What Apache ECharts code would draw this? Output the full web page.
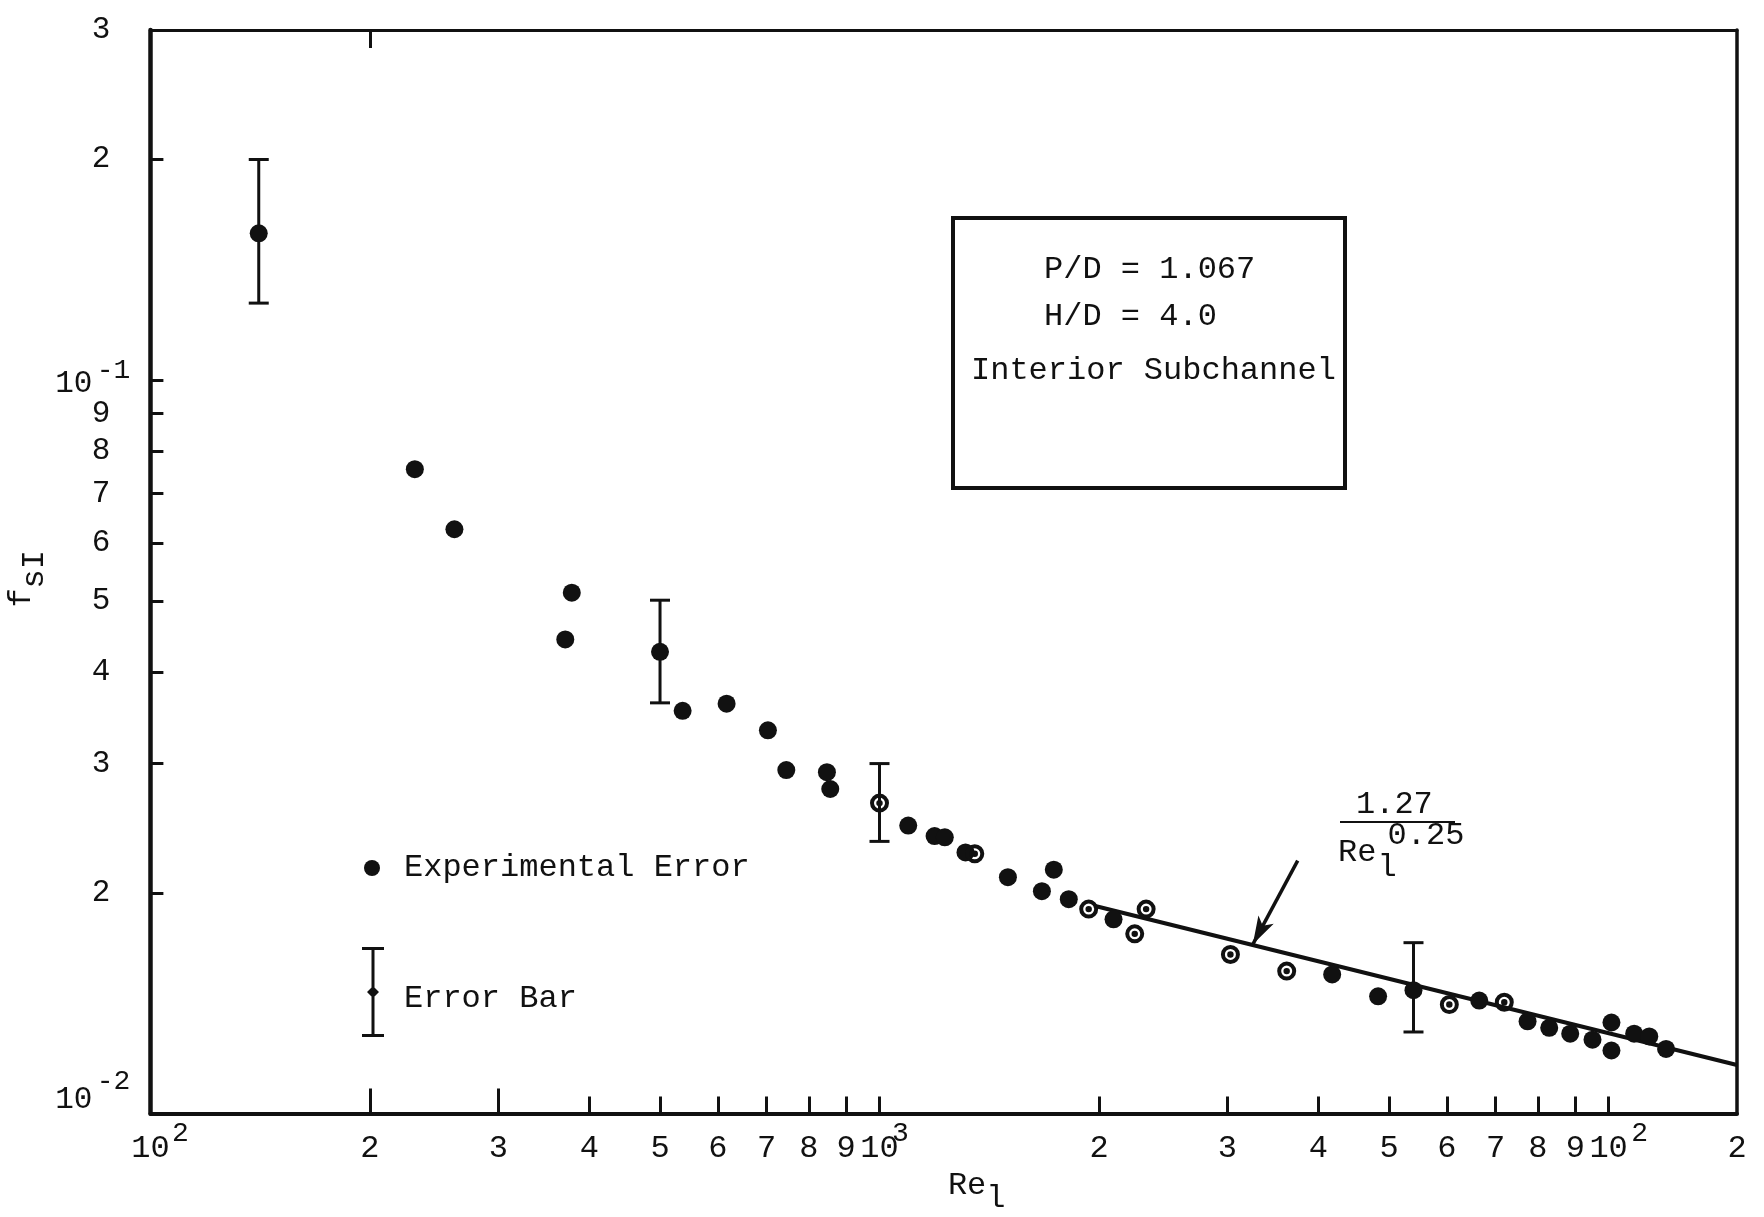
<!DOCTYPE html>
<html>
<head>
<meta charset="utf-8">
<script src="https://cdn.jsdelivr.net/npm/echarts@6/dist/echarts.min.js"></script>
<style>
  html, body { margin: 0; padding: 0; background: #fff; }
  #chart { width: 1764px; height: 1217px; }
</style>
</head>
<body>
<div id="chart"></div>
<script>
// Friction factor f_sI against Reynolds number Re_l, interior subchannel.

// Measured points drawn as solid dots
const dotRe = [140.8, 230.5, 261.2, 378.4, 370.7, 500, 537, 617, 703, 745, 847, 856,
  1095, 1190, 1229, 1312, 1500, 1734, 1670, 1818, 2094, 4177, 4829, 5400, 6646,
  7742, 8290, 8858, 9504, 10090, 10090, 10840, 11370, 11990];
const dotF = [0.1585, 0.0756, 0.0626, 0.0513, 0.0443, 0.0426, 0.0354, 0.0362, 0.0333, 0.0294, 0.0292, 0.0277,
  0.0247, 0.0239, 0.0238, 0.0227, 0.0210, 0.0215, 0.0201, 0.0196, 0.0184, 0.01548, 0.01445, 0.01473, 0.01426,
  0.01336, 0.01309, 0.01285, 0.01261, 0.01331, 0.01219, 0.01285, 0.01274, 0.01225];

// Measured points drawn as circled dots
const ringRe = [1000, 1351, 1936, 2321, 2239, 3029, 3618, 6047, 7193];
const ringF = [0.0265, 0.0226, 0.0190, 0.0190, 0.01758, 0.01648, 0.01564, 0.01408, 0.01418];

// Error bars: Re, lower f, upper f
const barRe = [140.8, 500, 1000, 5400];
const barLo = [0.1273, 0.0363, 0.0235, 0.01292];
const barHi = [0.1998, 0.0501, 0.0300, 0.0171];

// Correlation line 1.27 / Re^0.25 (end points)
const fitRe = [1970, 15000];
const fitF = [0.0192, 0.01165];

// Pointer arrow from the formula to the line (tail, tip)
const arrowRe = [3746, 3251];
const arrowF = [0.02212, 0.01701];

// Axis ticks and labels
const xTickVals = [200, 300, 400, 500, 600, 700, 800, 900, 1000,
  2000, 3000, 4000, 5000, 6000, 7000, 8000, 9000, 10000];
const xLongTickVals = [200, 300];
const xTopTickVals = [200];
const xLabelVals = [100, 200, 300, 400, 500, 600, 700, 800, 900, 1000,
  2000, 3000, 4000, 5000, 6000, 7000, 8000, 9000, 10000, 15000];
const xLabelText = ['10', '2', '3', '4', '5', '6', '7', '8', '9', '10',
  '2', '3', '4', '5', '6', '7', '8', '9', '10', '2'];
const xPowerVals = [100, 1000, 10000];
const xPowerText = ['2', '3', '2'];

const yTickVals = [0.02, 0.03, 0.04, 0.05, 0.06, 0.07, 0.08, 0.09, 0.1, 0.2];
const yLabelVals = [0.01, 0.02, 0.03, 0.04, 0.05, 0.06, 0.07, 0.08, 0.09, 0.1, 0.2, 0.3];
const yLabelText = ['10', '2', '3', '4', '5', '6', '7', '8', '9', '10', '2', '3'];
const yPowerVals = [0.01, 0.1];
const yPowerText = ['-2', '-1'];

const X_MIN = 100, X_MAX = 15000, Y_MIN = 0.01, Y_MAX = 0.3;

const FONT = '"Liberation Mono", "Courier New", monospace';
const INK = '#111';

// circled dot: outer disc, hole, centre dot
const RING = 'path://M0,-10A10,10,0,1,1,0,10A10,10,0,1,1,0,-10Z' +
  'M0,-5.8A5.8,5.8,0,1,0,0,5.8A5.8,5.8,0,1,0,0,-5.8Z' +
  'M0,-3.4A3.4,3.4,0,1,1,0,3.4A3.4,3.4,0,1,1,0,-3.4Z';
// I-beam with a centre diamond for the error-bar legend key
const IBEAM = 'path://M0,0L22,0L22,3L0,3Z M9.5,0L12.5,0L12.5,90L9.5,90Z M0,87L22,87L22,90L0,90Z M11,39L17,45L11,51L5,45Z';

// keep end labels inside the axis extent
function inside(vals, lo, hi) {
  return vals.map(v => Math.min(Math.max(v, lo * (1 + 1e-9)), hi * (1 - 1e-9)));
}
function nearest(arr, v) {
  let best = 0, d = Infinity;
  arr.forEach((a, i) => {
    const dd = Math.abs(Math.log10(a) - Math.log10(v));
    if (dd < d) { d = dd; best = i; }
  });
  return best;
}

const txt = { fontFamily: FONT, color: INK };

const chart = echarts.init(document.getElementById('chart'));

const baseX = { type: 'log', logBase: 10, min: X_MIN, max: X_MAX, splitLine: { show: false }, minorTick: { show: false } };
const baseY = { type: 'log', logBase: 10, min: Y_MIN, max: Y_MAX, splitLine: { show: false }, minorTick: { show: false } };

chart.setOption({
  animation: false,
  backgroundColor: '#fff',
  grid: { left: 150.4, right: 27, top: 30, bottom: 103.4, outerBoundsMode: 'none', containLabel: false },
  xAxis: [
    Object.assign({}, baseX, {
      position: 'bottom',
      axisLine: { show: true, lineStyle: { color: INK, width: 4 } },
      axisTick: { show: true, inside: true, length: 17, lineStyle: { color: INK, width: 3 }, customValues: xTickVals },
      axisLabel: {
        show: true, customValues: inside(xLabelVals, X_MIN, X_MAX), margin: 19,
        fontFamily: FONT, fontSize: 32, color: INK,
        formatter: v => xLabelText[nearest(xLabelVals, v)]
      },
      name: '{a|Re}{b|l}', nameLocation: 'middle', nameGap: 56, nameMoveOverlap: false,
      nameTextStyle: {
        fontFamily: FONT, fontSize: 32, color: INK, padding: [0, 0, 0, 66],
        rich: {
          a: Object.assign({ fontSize: 32, verticalAlign: 'top' }, txt),
          b: Object.assign({ fontSize: 32, verticalAlign: 'top', padding: [13, 0, 0, 0] }, txt)
        }
      }
    }),
    Object.assign({}, baseX, {
      position: 'bottom',
      axisLine: { show: false },
      axisTick: { show: true, inside: true, length: 25, lineStyle: { color: INK, width: 3 }, customValues: xLongTickVals },
      axisLabel: {
        show: true, customValues: inside(xPowerVals, X_MIN, X_MAX), margin: 6,
        fontFamily: FONT, fontSize: 28, color: INK,
        formatter: v => { const i = nearest(xPowerVals, v); return '{s' + i + '|' + xPowerText[i] + '}'; },
        rich: {
          s0: Object.assign({ fontSize: 28, padding: [0, 0, 0, 60] }, txt),
          s1: Object.assign({ fontSize: 28, padding: [0, 0, 0, 42] }, txt),
          s2: Object.assign({ fontSize: 28, padding: [0, 0, 0, 62] }, txt)
        }
      }
    }),
    Object.assign({}, baseX, {
      position: 'top',
      axisLine: { show: true, lineStyle: { color: INK, width: 3 } },
      axisTick: { show: true, inside: true, length: 18, lineStyle: { color: INK, width: 3 }, customValues: xTopTickVals },
      axisLabel: { show: false }
    })
  ],
  yAxis: [
    Object.assign({}, baseY, {
      position: 'left',
      axisLine: { show: true, lineStyle: { color: INK, width: 4.5 } },
      axisTick: { show: true, inside: true, length: 13, lineStyle: { color: INK, width: 3 }, customValues: yTickVals },
      axisLabel: {
        show: true, customValues: inside(yLabelVals, Y_MIN, Y_MAX), margin: 40,
        fontFamily: FONT, fontSize: 31, color: INK,
        formatter: v => {
          const i = nearest(yLabelVals, v);
          if (i === 0) return '{p0|' + yLabelText[i] + '}';
          if (i === 9) return '{p1|' + yLabelText[i] + '}';
          return '{d|' + yLabelText[i] + '}';
        },
        rich: {
          d: Object.assign({ fontSize: 31 }, txt),
          p0: Object.assign({ fontSize: 31, padding: [0, 18, 28, 0] }, txt),
          p1: Object.assign({ fontSize: 31, padding: [8, 18, 0, 0] }, txt)
        }
      },
      name: '{a|f}{b|sI}', nameLocation: 'middle', nameRotate: 90, nameGap: 100, nameMoveOverlap: false,
      nameTextStyle: {
        fontFamily: FONT, fontSize: 32, color: INK, padding: [0, 14, 0, 0],
        rich: {
          a: Object.assign({ fontSize: 32, verticalAlign: 'top' }, txt),
          b: Object.assign({ fontSize: 32, verticalAlign: 'top', padding: [13, 0, 0, 0] }, txt)
        }
      }
    }),
    Object.assign({}, baseY, {
      position: 'left',
      axisLine: { show: false },
      axisTick: { show: false },
      axisLabel: {
        show: true, customValues: inside(yPowerVals, Y_MIN, Y_MAX), margin: 20,
        fontFamily: FONT, fontSize: 28, color: INK,
        formatter: v => { const i = nearest(yPowerVals, v); return '{t' + i + '|' + yPowerText[i] + '}'; },
        rich: {
          t0: Object.assign({ fontSize: 28, padding: [0, 0, 64, 0] }, txt),
          t1: Object.assign({ fontSize: 28, padding: [0, 0, 18, 0] }, txt)
        }
      }
    }),
    Object.assign({}, baseY, {
      position: 'right',
      axisLine: { show: true, lineStyle: { color: INK, width: 3.5 } },
      axisTick: { show: false },
      axisLabel: { show: false }
    })
  ],
  legend: [
    {
      data: [{ name: 'Experimental Error', icon: 'circle', itemStyle: { color: INK } }],
      left: 364, top: 852, padding: 0, itemWidth: 16, itemHeight: 16, selectedMode: false,
      textStyle: { fontFamily: FONT, fontSize: 32, color: INK, padding: [0, 0, 0, 19] }
    },
    {
      data: [{ name: 'Error Bar', icon: IBEAM, itemStyle: { color: INK } }],
      left: 362, top: 947, padding: 0, itemWidth: 22, itemHeight: 90, selectedMode: false,
      formatter: '{t|{name}}',
      textStyle: {
        fontFamily: FONT, fontSize: 32, color: INK,
        rich: { t: Object.assign({ fontSize: 32, padding: [14, 0, 0, 15] }, txt) }
      }
    }
  ],
  graphic: [
    { type: 'rect', shape: { x: 953, y: 218, width: 392, height: 270 },
      style: { fill: 'rgba(0,0,0,0)', stroke: INK, lineWidth: 4 } },
    { type: 'text', x: 1044, y: 270, style: { text: 'P/D = 1.067', font: '32px ' + FONT, fill: INK, verticalAlign: 'middle' } },
    { type: 'text', x: 1044, y: 317, style: { text: 'H/D = 4.0', font: '32px ' + FONT, fill: INK, verticalAlign: 'middle' } },
    { type: 'text', x: 971, y: 371, style: { text: 'Interior Subchannel', font: '32px ' + FONT, fill: INK, verticalAlign: 'middle' } },
    { type: 'text', x: 1356, y: 805, style: { text: '1.27', font: '32px ' + FONT, fill: INK, verticalAlign: 'middle' } },
    { type: 'line', shape: { x1: 1340, y1: 822, x2: 1455, y2: 822 }, style: { stroke: INK, lineWidth: 2 } },
    { type: 'text', x: 1338, y: 853, style: { text: 'Re', font: '32px ' + FONT, fill: INK, verticalAlign: 'middle' } },
    { type: 'text', x: 1387, y: 868, style: { text: 'l', font: '32px ' + FONT, fill: INK, align: 'center', verticalAlign: 'middle' } },
    { type: 'text', x: 1426, y: 836, style: { text: '0.25', font: '32px ' + FONT, fill: INK, align: 'center', verticalAlign: 'middle' } }
  ],
  series: [
    {
      name: 'Experimental Error', type: 'scatter', z: 4,
      data: dotRe.map((r, i) => [r, dotF[i]]),
      symbol: 'circle', symbolSize: 18,
      itemStyle: { color: INK, opacity: 1 }
    },
    {
      name: 'Experimental Error', type: 'scatter', z: 4,
      data: ringRe.map((r, i) => [r, ringF[i]]),
      symbol: RING, symbolSize: 19,
      itemStyle: { color: INK, opacity: 1 }
    },
    {
      name: 'Error Bar', type: 'custom', z: 3,
      data: barRe.map((r, i) => [r, barLo[i], barHi[i]]),
      encode: { x: 0, y: [1, 2] },
      itemStyle: { color: INK },
      renderItem: (params, api) => {
        const x = api.value(0);
        const lo = api.coord([x, api.value(1)]);
        const hi = api.coord([x, api.value(2)]);
        const cap = 10;
        const st = { stroke: INK, lineWidth: 3, fill: null };
        return {
          type: 'group',
          children: [
            { type: 'line', shape: { x1: lo[0], y1: lo[1], x2: hi[0], y2: hi[1] }, style: st },
            { type: 'line', shape: { x1: hi[0] - cap, y1: hi[1], x2: hi[0] + cap, y2: hi[1] }, style: st },
            { type: 'line', shape: { x1: lo[0] - cap, y1: lo[1], x2: lo[0] + cap, y2: lo[1] }, style: st }
          ]
        };
      }
    },
    {
      name: '1.27/Re^0.25', type: 'line', z: 2,
      data: fitRe.map((r, i) => [r, fitF[i]]),
      symbol: 'none', showSymbol: false,
      lineStyle: { color: INK, width: 4 },
      markLine: {
        silent: true, animation: false,
        symbol: ['none', 'arrow'], symbolSize: [13, 28],
        label: { show: false },
        lineStyle: { color: INK, width: 3.5, type: 'solid' },
        data: [[
          { coord: [arrowRe[0], arrowF[0]] },
          { coord: [arrowRe[1], arrowF[1]] }
        ]]
      }
    }
  ]
});
</script>
</body>
</html>
